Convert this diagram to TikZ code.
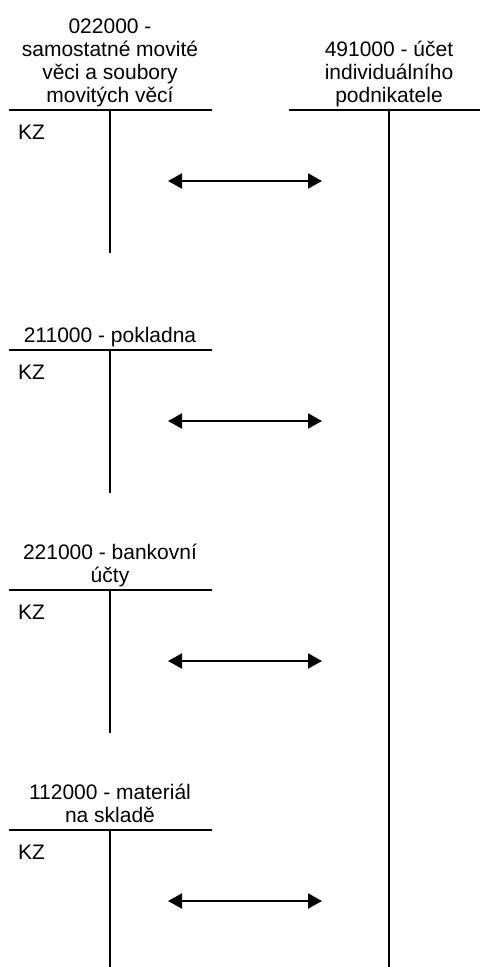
\documentclass[tikz,border=0pt]{standalone}
\usepackage{fontspec}
\setmainfont{Liberation Sans}
\usetikzlibrary{arrows.meta, positioning}

\begin{document}
\begin{tikzpicture}[
    x=1pt, y=-1pt,
    title/.style={anchor=south, align=center, inner sep=0pt, text depth=4pt, font=\fontsize{21}{23}\selectfont},
    kz/.style={anchor=west, inner sep=0pt, font=\fontsize{21}{23}\selectfont},
    tline/.style={line width=2pt},
    transfer/.style={line width=2pt, {Triangle[length=14pt,width=15pt]}-{Triangle[length=14pt,width=15pt]}}
]
\useasboundingbox (0,0) rectangle (480,967);

    % account 491000
    \node[title] (ucet491) at (389,107) {491000 - účet\\individuálního\\podnikatele};
    \draw[tline] (289,110) -- (480,110);
    \draw[tline] (389,110) -- (389,967);

    % accounts on the left
    \foreach \top/\name/\label in {
        110/ucet022/{022000 -\\samostatné movité\\věci a soubory\\movitých věcí},
        350/ucet211/{211000 - pokladna},
        590/ucet221/{221000 - bankovní\\účty},
        830/ucet112/{112000 - materiál\\na skladě}} {
        \pgfmathsetmacro\bottom{min(\top+143,967)}
        \node[title] (\name) at (110,\top-3) {\label};
        \node[kz] (\name-kz) at (18,\top+22) {KZ};
        \draw[tline] (9,\top) -- (212,\top);
        \draw[tline] (110,\top) -- (110,\bottom);
        \coordinate (\name-from) at (168,\top+71);
        \coordinate (\name-to) at (322,\top+71);
        \draw[transfer] (\name-from) -- (\name-to);
    }

\end{tikzpicture}
\end{document}
